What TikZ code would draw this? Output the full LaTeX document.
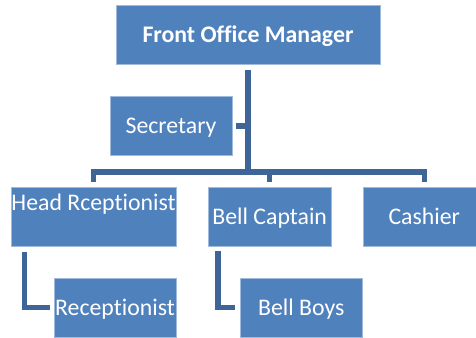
\documentclass[tikz,border=0pt]{standalone}
\usepackage{fontspec}
\setmainfont[Ligatures=NoCommon]{Carlito}
\usepackage{xcolor}
\definecolor{boxblue}{RGB}{79,129,189}
\definecolor{boxedge}{RGB}{160,186,220}
\definecolor{linkblue}{RGB}{63,101,152}

\begin{document}
\begin{tikzpicture}[
		x=1pt, y=-1pt,
		box/.style={rectangle,fill=boxblue,draw=boxedge,line width=0.6pt,text=white,
			font=\fontsize{23.8}{28}\selectfont,inner xsep=0pt,inner ysep=0pt,
			text height=37pt,text depth=22pt,minimum width=122pt},
		topbox/.style={box,text height=23.7pt,text depth=35.3pt},
		link/.style={draw=linkblue,line width=5.5pt,line join=miter}
	]

	\useasboundingbox (0,0) rectangle (476,337);

	% top of the chart
	\node[box,font=\fontsize{23.8}{28}\selectfont\bfseries,minimum width=264pt] (fom) at (248,35) {Front Office Manager};
	\node[box] (sec) at (171,126) {Secretary};

	% second row
	\node[topbox,minimum width=165pt] (head) at (93.5,216.5) {Head Rceptionist};
	\node[box,minimum width=123pt] (bellcap) at (269.7,216.5) {Bell Captain};
	\node[box,minimum width=123pt] (cashier) at (424.3,216.5) {Cashier};

	% third row
	\node[box] (recep) at (115,307.5) {Receptionist};
	\node[box] (bellboys) at (301.3,307.5) {Bell Boys};

	% connectors
	\coordinate (bus) at (248,172);
	\draw[link,shorten <=5pt] (fom.south) -- (bus);
	\draw[link,shorten <=4pt] (sec.east) -- (sec.east -| bus);
	\draw[link,shorten <=4.5pt,shorten >=4.5pt] (head.north) |- (bus) -| (cashier.north);
	\draw[link,shorten >=4.5pt] (bus -| bellcap.north) -- (bellcap.north);
	\draw[link,shorten <=6pt,shorten >=3.5pt] ([xshift=14pt]head.south west) |- (recep.west);
	\draw[link,shorten <=5pt,shorten >=5pt] ([xshift=10pt]bellcap.south west) |- (bellboys.west);

\end{tikzpicture}
\end{document}
